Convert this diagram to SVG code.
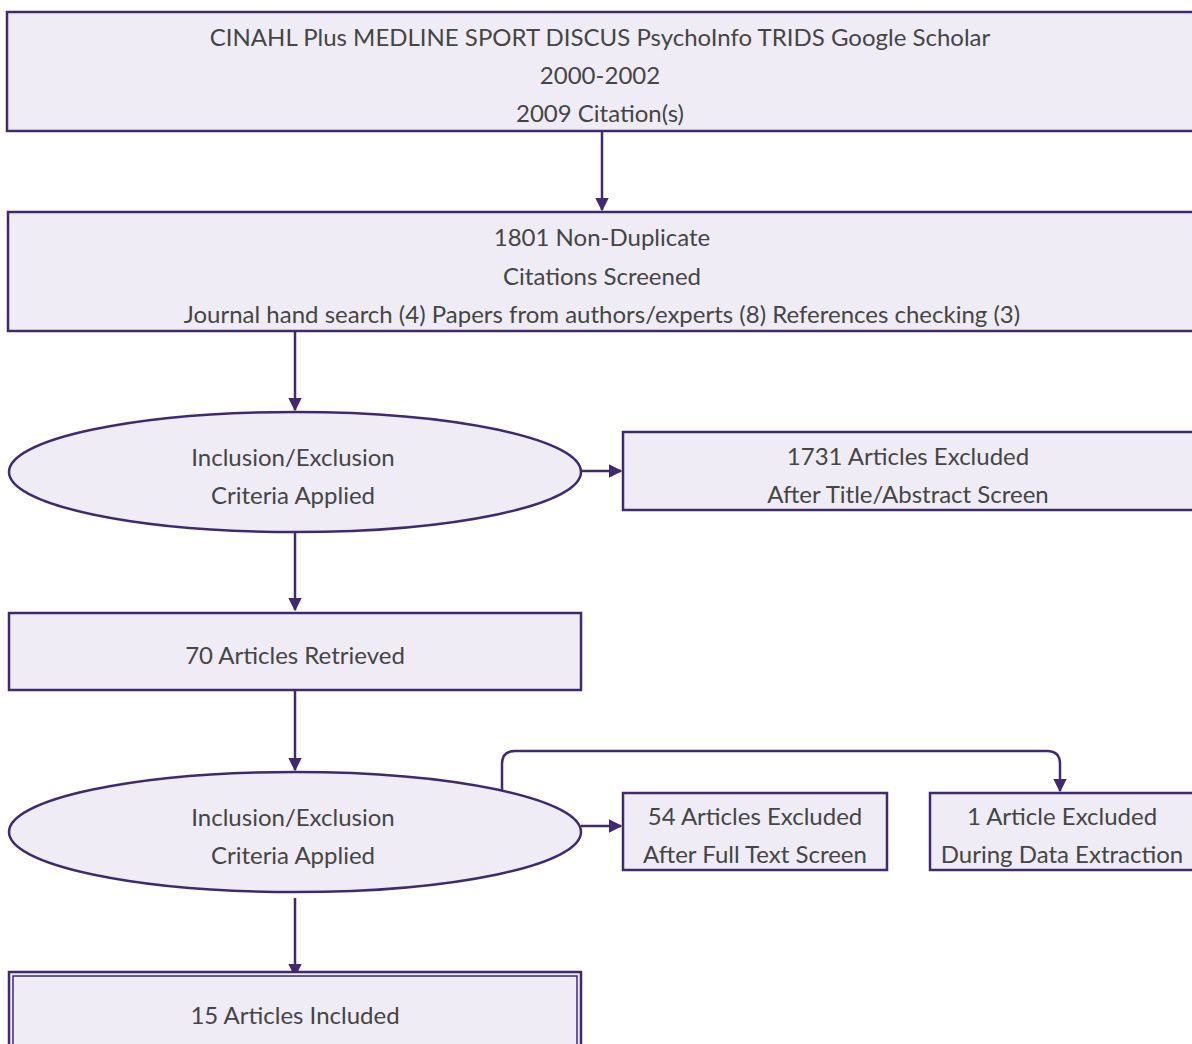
<svg xmlns="http://www.w3.org/2000/svg" width="1192" height="1044" viewBox="0 0 1192 1044">
<style>
.n{fill:#efecf6;stroke:#3f2a70;stroke-width:2.5}
.t{font-family:Lato,"Liberation Sans",sans-serif;font-size:24px;fill:#454545;text-anchor:middle;dominant-baseline:central}
.e{fill:none;stroke:#3f2a70;stroke-width:2.5}
</style>
<defs>
<marker id="a" viewBox="0 0 10 10" refX="9" refY="5" markerWidth="5.5" markerHeight="5.5" markerUnits="strokeWidth" orient="auto">
<path d="M0,0L10,5L0,10z" fill="#3f2a70"/>
</marker>
</defs>
<g id="connectors">
<path class="e" d="M602,131V210" marker-end="url(#a)"/>
<path class="e" d="M295,331V410" marker-end="url(#a)"/>
<path class="e" d="M581,471H621" marker-end="url(#a)"/>
<path class="e" d="M295,532V610" marker-end="url(#a)"/>
<path class="e" d="M295,690V770" marker-end="url(#a)"/>
<path class="e" d="M581,826H621" marker-end="url(#a)"/>
<path class="e" d="M502,791V764Q502,751 515,751H1047Q1060,751 1060,764V791" marker-end="url(#a)"/>
<path class="e" d="M295,898V976" marker-end="url(#a)"/>
</g>
<g id="n1"><rect class="n" x="7" y="12" width="1190" height="119"/>
<text class="t" x="600" y="36">CINAHL Plus MEDLINE SPORT DISCUS PsychoInfo TRIDS Google Scholar</text>
<text class="t" x="600" y="74">2000-2002</text>
<text class="t" x="600" y="112">2009 Citation(s)</text></g>
<g id="n2"><rect class="n" x="8" y="212" width="1190" height="119"/>
<text class="t" x="602" y="236">1801 Non-Duplicate</text>
<text class="t" x="602" y="275">Citations Screened</text>
<text class="t" x="602" y="313">Journal hand search (4) Papers from authors/experts (8) References checking (3)</text></g>
<g id="n3"><ellipse class="n" cx="295" cy="472" rx="286" ry="60"/>
<text class="t" x="293" y="456">Inclusion/Exclusion</text>
<text class="t" x="293" y="494">Criteria Applied</text></g>
<g id="n4"><rect class="n" x="623" y="432" width="575" height="78"/>
<text class="t" x="908" y="455">1731 Articles Excluded</text>
<text class="t" x="908" y="493">After Title/Abstract Screen</text></g>
<g id="n5"><rect class="n" x="9" y="613" width="572" height="77"/>
<text class="t" x="295" y="654">70 Articles Retrieved</text></g>
<g id="n6"><ellipse class="n" cx="295" cy="832" rx="286" ry="60"/>
<text class="t" x="293" y="816">Inclusion/Exclusion</text>
<text class="t" x="293" y="854">Criteria Applied</text></g>
<g id="n7"><rect class="n" x="623" y="793" width="264" height="77"/>
<text class="t" x="755" y="815">54 Articles Excluded</text>
<text class="t" x="755" y="853">After Full Text Screen</text></g>
<g id="n8"><rect class="n" x="930" y="793" width="268" height="77"/>
<text class="t" x="1062" y="815">1 Article Excluded</text>
<text class="t" x="1062" y="853">During Data Extraction</text></g>
<g id="n9"><rect class="n" x="9" y="972" width="572" height="90"/>
<rect x="13" y="976" width="564" height="82" fill="none" stroke="#3f2a70" stroke-width="1.5"/>
<text class="t" x="295" y="1014">15 Articles Included</text></g>
</svg>
